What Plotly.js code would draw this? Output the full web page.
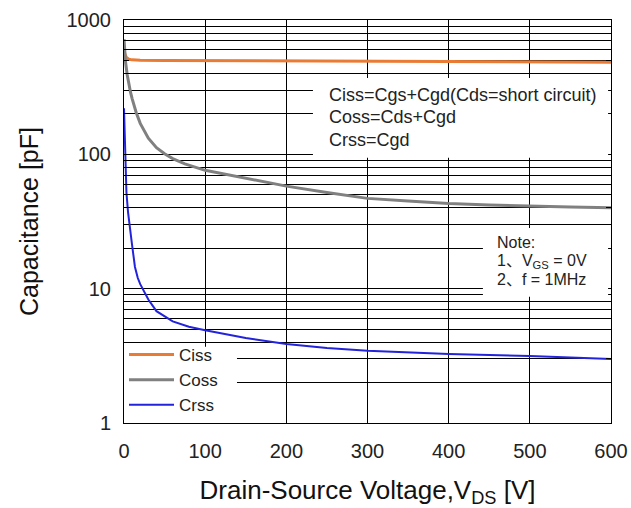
<!DOCTYPE html>
<html>
<head>
<meta charset="utf-8">
<script src="https://cdn.plot.ly/plotly-3.0.1.min.js"></script>
<style>html,body{margin:0;padding:0;background:#fff;}#chart{width:631px;height:508px;}</style>
</head>
<body>
<div id="chart"></div>
<script>
// Ciss
const vIss = [0, 1, 3, 6, 10, 20, 50, 100, 200, 300, 400, 500, 600];
const cIss = [600, 560, 525, 510, 505, 502, 500, 498, 496, 494, 491, 488, 485];
// Coss
const vOss = [0, 1, 2, 4, 6, 8, 10, 15, 20, 25, 30, 40, 50, 60, 75, 100, 150, 200, 250, 300, 350, 400, 450, 500, 550, 600];
const cOss = [720, 560, 480, 390, 330, 290, 260, 205, 170, 148, 132, 112, 101, 93, 85, 76, 66, 58, 52, 47, 45, 43, 42, 41, 40.5, 40];
// Crss
const vRss = [0, 1, 2, 3, 5, 7.5, 10, 13.5, 17, 20, 24, 30, 40, 50, 60, 80, 100, 150, 200, 250, 300, 400, 500, 600];
const cRss = [220, 130, 75, 52, 37, 29, 21, 14.5, 12, 10.8, 9.8, 8.3, 6.8, 6.2, 5.7, 5.2, 4.9, 4.3, 3.87, 3.62, 3.45, 3.26, 3.16, 3.0];

const xTicks = [0, 100, 200, 300, 400, 500, 600];
const yTicks = [1, 10, 100, 1000];
const yMinor = [];
[1, 10, 100].forEach(d => { for (let k = 2; k <= 9; k++) yMinor.push(d * k); });

const FONT = 'Liberation Sans, Arial, "Noto Sans CJK SC", sans-serif';

const traces = [
  {x: vIss, y: cIss, name: 'Ciss', mode: 'lines', line: {color: '#E97B35', width: 3}},
  {x: vOss, y: cOss, name: 'Coss', mode: 'lines', line: {color: '#808080', width: 3}},
  {x: vRss, y: cRss, name: 'Crss', mode: 'lines', line: {color: '#2323DC', width: 2}}
];

const whiteBox = (x0, x1, y0, y1) => ({type: 'rect', xref: 'paper', yref: 'paper', x0, x1, y0, y1,
  fillcolor: '#ffffff', line: {width: 0}, layer: 'above'});

const note = (text, x, y, size) => ({text, x, y, xref: 'paper', yref: 'paper', xanchor: 'left', yanchor: 'middle',
  showarrow: false, font: {family: FONT, size, color: '#222'}, align: 'left'});

const layout = {
  width: 631, height: 508,
  margin: {l: 124, r: 20, t: 20, b: 85},
  paper_bgcolor: '#fff', plot_bgcolor: '#fff',
  font: {family: FONT, color: '#222'},
  showlegend: true,
  legend: {x: 0.0, y: 0.0, xanchor: 'left', yanchor: 'bottom', bgcolor: 'rgba(0,0,0,0)',
    font: {family: FONT, size: 17, color: '#222'}, itemwidth: 45, tracegroupgap: 0},
  xaxis: {
    range: [0, 600], tickvals: xTicks, ticks: 'inside', ticklen: 5, tickcolor: '#000',
    showgrid: true, gridcolor: '#000', gridwidth: 1, zeroline: false,
    showline: true, linecolor: '#000', linewidth: 1, mirror: 'allticks',
    tickfont: {family: FONT, size: 20, color: '#222'}, ticklabelstandoff: 10,
    automargin: false,
    title: {text: 'Drain-Source Voltage,V<sub>DS</sub> [V]', font: {family: FONT, size: 26, color: '#111'}}
  },
  yaxis: {
    type: 'log', range: [0, 3], tickvals: yTicks, ticktext: ['1', '10', '100', '1000'],
    ticks: 'inside', ticklen: 5, tickcolor: '#000',
    showgrid: true, gridcolor: '#000', gridwidth: 1, zeroline: false,
    showline: true, linecolor: '#000', linewidth: 1, mirror: 'allticks',
    minor: {tickvals: yMinor, ticks: 'inside', ticklen: 5, tickcolor: '#000', showgrid: true, gridcolor: '#000', gridwidth: 1},
    tickfont: {family: FONT, size: 20, color: '#222'}, ticklabelstandoff: 8,
    automargin: 'width',
    title: {text: 'Capacitance [pF]', font: {family: FONT, size: 25, color: '#111'}, standoff: 20}
  },
  shapes: [
    whiteBox(0.388, 0.994, 0.658, 0.856),
    whiteBox(0.737, 0.994, 0.313, 0.484),
    whiteBox(0.0, 0.232, 0.0, 0.189)
  ],
  annotations: [
    note('Ciss=Cgs+Cgd(Cds=short circuit)', 0.417, 0.814, 18),
    note('Coss=Cds+Cgd', 0.417, 0.759, 18),
    note('Crss=Cgd', 0.417, 0.702, 18),
    note('Note:', 0.762, 0.449, 16),
    note('1、V<sub>GS</sub> = 0V', 0.762, 0.401, 16),
    note('2、f = 1MHz', 0.762, 0.355, 16)
  ]
};

Plotly.newPlot('chart', traces, layout, {displayModeBar: false, staticPlot: true});
</script>
</body>
</html>
